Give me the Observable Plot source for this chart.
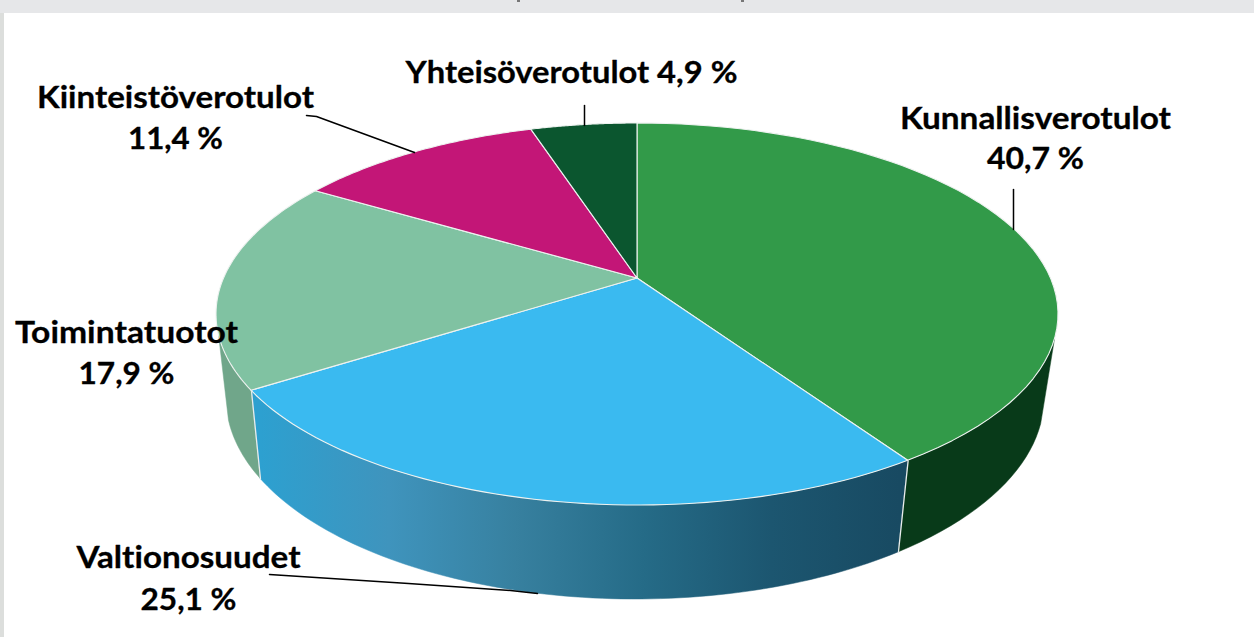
<!DOCTYPE html>
<html><head><meta charset="utf-8">
<style>html,body{margin:0;padding:0;background:#fff;overflow:hidden}svg{display:block}text{font-variant-ligatures:none}</style>
<script src="https://cdn.jsdelivr.net/npm/d3@7"></script>
<script src="https://cdn.jsdelivr.net/npm/@observablehq/plot@0.6"></script>
</head><body><div id="chart"></div>
<script>
const names = ["Kunnallisverotulot","Valtionosuudet","Toimintatuotot","Kiinteistöverotulot","Yhteisöverotulot"];
const shares = [40.7,25.1,17.9,11.4,4.9];
const topColors = ["#329a49","#3abaf0","#80c2a2","#c31677","#0b562f"];
const wallColors = ["#083a19","url(#blueWall)","#70a68a","#c31677","#0b562f"];
const gradientStops = [[0,"#2da0d0"],[0.2,"#3f94bd"],[0.4,"#37809f"],[0.6,"#256b87"],[0.8,"#1c5670"],[1,"#184a62"]];

// projected pie geometry
const apex = {x:637, y:278};
const topE = {cx:637, cy:314, rx:421, ry:191};
const botE = {cx:635, cy:398, rx:409, ry:201};
const beta = (topE.cy-apex.y)/topE.ry;
function proj(share){ // share in percent, clockwise from 12 o'clock
  const t = share/100*2*Math.PI, c=Math.cos(t), s=Math.sin(t);
  const d = 1+beta*c;
  return {c:(c+beta)/d, s:s*Math.sqrt(1-beta*beta)/d};
}
const onE = (e,p)=>({x:e.cx+e.rx*p.s, y:e.cy-e.ry*p.c});
const cum = d3.cumsum(shares);
const slices = names.map((n,i)=>{
  const a = i?cum[i-1]:0, b = cum[i];
  return {i,a,b,pts:d3.range(0,61).map(k=>{const p=proj(a+(b-a)*k/60);return onE(topE,p)})};
});
// wall: visible silhouette limit
const limCR=Math.cos(96*Math.PI/180);
const wallPts = slices.flatMap(sl=>{
  const out=[];
  for(let k=0;k<=80;k++){
    const p=proj(sl.a+(sl.b-sl.a)*k/80);
    if(p.c>limCR) continue;
    const t=onE(topE,p), u=onE(botE,p);
    out.push({i:sl.i,x1:t.x,y1:t.y,x2:u.x,y2:u.y});
  }
  return out;
});
const wallGroups = d3.groups(wallPts,d=>d.i);

const labels = [
 {lines:[names[0],"40,7 %"],x:1035,y:[128,168],w:[271,97]},
 {lines:[names[4]+" 4,9 %"],x:571,y:[82],w:[332]},
 {lines:[names[3],"11,4 %"],x:175,y:[107,148],w:[277,95]},
 {lines:[names[2],"17,9 %"],x:126,y:[342,383],w:[223,96]},
 {lines:[names[1],"25,1 %"],x:188,y:[567,609],w:[224,96]}
];
const labelRows = labels.flatMap(l=>l.lines.map((t,j)=>({t,x:l.x,y:l.y[j],w:l.w[j]})));
const leaders = [
 [[306,115],[316,116],[414,152]],
 [[584,105],[584,125]],
 [[1013,189],[1013,229]],
 [[269,574],[408,583],[510,590],[537,593]]
];
const titleBits = [517,741];

const gradient = (index,{x})=>{
  const defs=d3.create("svg:defs");
  const g=defs.append("linearGradient").attr("id","blueWall").attr("gradientUnits","userSpaceOnUse")
    .attr("x1",x(261)).attr("x2",x(899)).attr("y1",0).attr("y2",0);
  gradientStops.forEach(([o,c])=>g.append("stop").attr("offset",o).attr("stop-color",c));
  return defs.node();
};
const fitWidths = (index,scales,values,dims,ctx,next)=>{
  const g=next(index,scales,values,dims,ctx);
  d3.select(g).selectAll("text").each(function(i){
    d3.select(this).attr("textLength",labelRows[i].w).attr("lengthAdjust","spacingAndGlyphs");
  });
  return g;
};

const marks = [
  gradient,
  Plot.rect([{x1:0,x2:1254,y1:0,y2:13}],{x1:"x1",x2:"x2",y1:"y1",y2:"y2",fill:"#e6e7e9"}),
  Plot.rect([{x1:0,x2:4,y1:13,y2:637}],{x1:"x1",x2:"x2",y1:"y1",y2:"y2",fill:"#dcdedc"}),
  Plot.rect(titleBits,{x1:d=>d,x2:d=>d+3,y1:()=>0,y2:()=>2,fill:"#777"}),
  ...wallGroups.map(([i,pts])=>Plot.area(pts,{x1:"x1",y1:"y1",x2:"x2",y2:"y2",fill:wallColors[i],stroke:wallColors[i],strokeWidth:0.5})),
  ...[0,1].map(i=>{const p=proj(cum[i]);return Plot.line([onE(topE,p),onE(botE,p)],{x:"x",y:"y",stroke:"#e8ecec",strokeWidth:1.3});}),
  ...slices.map(sl=>Plot.area(sl.pts,{x1:()=>apex.x,y1:()=>apex.y,x2:"x",y2:"y",fill:topColors[sl.i],stroke:"#eef2f0",strokeWidth:1.1})),
  ...leaders.map(l=>Plot.line(l.map(([x,y])=>({x,y})),{x:"x",y:"y",stroke:"#000",strokeWidth:1.5})),
  Plot.text(labelRows,{x:"x",y:"y",text:"t",textAnchor:"middle",lineAnchor:"bottom",fontFamily:"Lato,'Open Sans',sans-serif",fontWeight:"bold",fontSize:31,fill:"#000",stroke:"#000",strokeWidth:0.3,render:fitWidths})
];
const chart = Plot.plot({
  width:1254,height:637,margin:0,
  x:{domain:[0,1254],range:[0,1254],axis:null},
  y:{domain:[0,637],range:[0,637],axis:null},
  style:{background:"#fff"},
  marks
});
document.getElementById("chart").append(chart);
</script></body></html>
